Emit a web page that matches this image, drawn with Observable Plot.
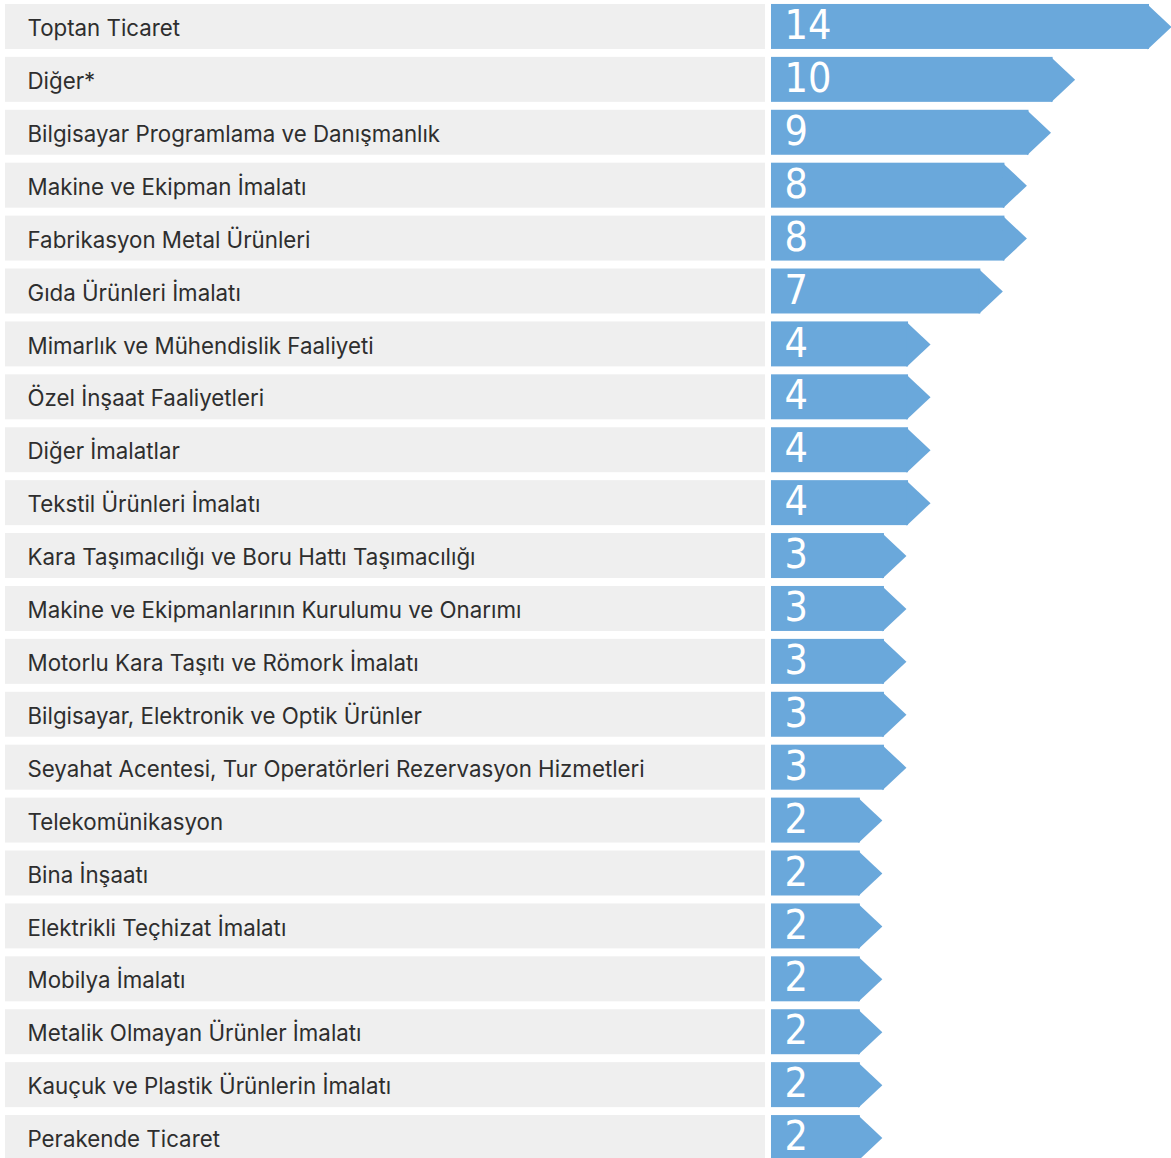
<!DOCTYPE html>
<html>
<head>
<meta charset="utf-8">
<script src="https://cdn.jsdelivr.net/npm/d3@7"></script>
<script src="https://cdn.jsdelivr.net/npm/@observablehq/plot@0.6"></script>
<style>
  html, body { margin: 0; padding: 0; background: #ffffff; }
  #chart svg { display: block; }
</style>
</head>
<body>
<div id="chart"></div>
<script>
const categories = [
  "Toptan Ticaret",
  "Diğer*",
  "Bilgisayar Programlama ve Danışmanlık",
  "Makine ve Ekipman İmalatı",
  "Fabrikasyon Metal Ürünleri",
  "Gıda Ürünleri İmalatı",
  "Mimarlık ve Mühendislik Faaliyeti",
  "Özel İnşaat Faaliyetleri",
  "Diğer İmalatlar",
  "Tekstil Ürünleri İmalatı",
  "Kara Taşımacılığı ve Boru Hattı Taşımacılığı",
  "Makine ve Ekipmanlarının Kurulumu ve Onarımı",
  "Motorlu Kara Taşıtı ve Römork İmalatı",
  "Bilgisayar, Elektronik ve Optik Ürünler",
  "Seyahat Acentesi, Tur Operatörleri Rezervasyon Hizmetleri",
  "Telekomünikasyon",
  "Bina İnşaatı",
  "Elektrikli Teçhizat İmalatı",
  "Mobilya İmalatı",
  "Metalik Olmayan Ürünler İmalatı",
  "Kauçuk ve Plastik Ürünlerin İmalatı",
  "Perakende Ticaret"
];
const values = [14, 10, 9, 8, 8, 7, 4, 4, 4, 4, 3, 3, 3, 3, 3, 2, 2, 2, 2, 2, 2, 2];

const data = categories.map((c, i) => ({category: c, value: values[i]}));

const BLUE = "#6aa8db";
const GRAY = "#efefef";
const X_MIN = -2.6;   // scale origin of the arrow bars
const X_MAX = 14;

// right-pointing arrow tip (tip at the point's position)
const arrowTip = {
  draw(context) {
    const w = 23, h = 22.5;
    context.moveTo(-w - 1, -h);
    context.lineTo(0, 0);
    context.lineTo(-w - 1, h);
    context.closePath();
  }
};

const chart = Plot.plot({
  width: 1171,
  height: 1158,
  marginLeft: 5,
  marginRight: 0,
  marginTop: 0,
  marginBottom: 0,
  x: {domain: [X_MIN, X_MAX], range: [771, 1171], axis: null},
  y: {domain: categories, range: [0, 1164], paddingInner: 0.15, paddingOuter: 0.075, round: false, axis: null},
  marks: [
    Plot.cell(data, {y: "category", fill: GRAY, insetRight: 406}),
    Plot.barX(data, {y: "category", x1: () => X_MIN, x2: "value", fill: BLUE, insetRight: 22}),
    Plot.dot(data, {y: "category", x: "value", symbol: arrowTip, fill: BLUE, stroke: "none", r: 10}),
    Plot.text(data, {
      y: "category", text: "category", frameAnchor: "left", dx: 22, dy: 2,
      textAnchor: "start", fill: "#2e2e2e", fontSize: 22.3,
      fontFamily: "Inter, Roboto, sans-serif"
    }),
    Plot.text(data, {
      y: "category", x: () => X_MIN, text: d => String(d.value), dx: 13, dy: -1,
      textAnchor: "start", fill: "#ffffff", fontSize: 41,
      fontFamily: "'Liberation Sans Narrow', 'DejaVu Sans Condensed', sans-serif"
    })
  ]
});

document.getElementById("chart").appendChild(chart);
</script>
</body>
</html>
